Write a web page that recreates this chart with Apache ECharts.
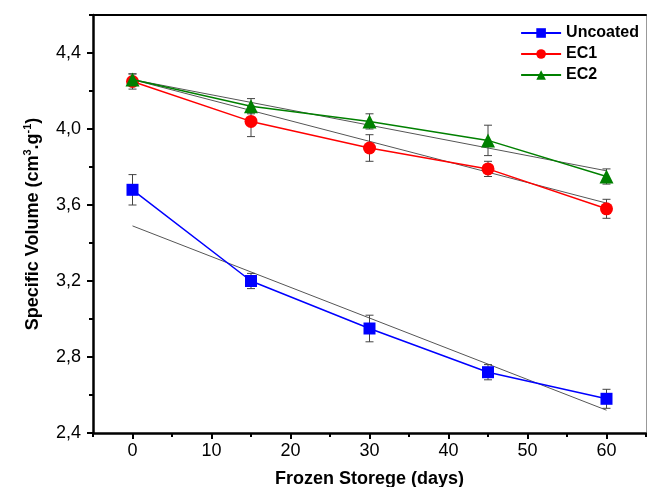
<!DOCTYPE html>
<html>
<head>
<meta charset="utf-8">
<script src="https://cdn.jsdelivr.net/npm/echarts@6/dist/echarts.min.js"></script>
<style>
  html, body { margin: 0; padding: 0; background: #fff; }
  #chart { width: 647px; height: 487px; }
</style>
</head>
<body>
<div id="chart"></div>
<script>
// days of frozen storage
var days = [0, 15, 30, 45, 60];

// specific volume means
var uncoated = [3.68, 3.20, 2.95, 2.72, 2.58];
var ec1 = [4.25, 4.04, 3.90, 3.79, 3.58];
var ec2 = [4.26, 4.12, 4.04, 3.94, 3.75];

// error bar half widths
var uncoatedErr = [0.08, 0.04, 0.07, 0.04, 0.05];
var ec1Err = [0.04, 0.08, 0.07, 0.04, 0.05];
var ec2Err = [0.03, 0.04, 0.04, 0.08, 0.04];

// gray linear fits, read at the ends
var fitDays = [0, 60];
var uncoatedFit = [3.49, 2.52];
var ec1Fit = [4.26, 3.61];
var ec2Fit = [4.26, 3.78];

// ticks
var xTicks = [0, 10, 20, 30, 40, 50, 60];
var xMinorTicks = [-5, 5, 15, 25, 35, 45, 55, 65];
var yTicks = [2.4, 2.8, 3.2, 3.6, 4.0, 4.4];
var yMinorTicks = [2.6, 3.0, 3.4, 3.8, 4.2, 4.6];

var FONT = "Arial, 'Liberation Sans', sans-serif";

function pairs(xs, ys) {
    return xs.map(function (x, i) { return [x, ys[i]]; });
}
function errData(ys, es) {
    return days.map(function (x, i) { return [x, ys[i] - es[i], ys[i] + es[i]]; });
}

function errorRender(params, api) {
    var lo = api.coord([api.value(0), api.value(1)]);
    var hi = api.coord([api.value(0), api.value(2)]);
    var w = 4;
    var st = { stroke: '#444', lineWidth: 1 };
    return {
        type: 'group',
        children: [
            { type: 'line', shape: { x1: lo[0], y1: lo[1], x2: hi[0], y2: hi[1] }, style: st },
            { type: 'line', shape: { x1: lo[0] - w, y1: lo[1], x2: lo[0] + w, y2: lo[1] }, style: st },
            { type: 'line', shape: { x1: hi[0] - w, y1: hi[1], x2: hi[0] + w, y2: hi[1] }, style: st }
        ]
    };
}

function fitSeries(ys) {
    return {
        type: 'line',
        data: pairs(fitDays, ys),
        symbol: 'none',
        silent: true,
        lineStyle: { color: '#555', width: 1 },
        z: 1
    };
}

function errSeries(ys, es) {
    return {
        type: 'custom',
        renderItem: errorRender,
        data: errData(ys, es),
        encode: { x: 0, y: [1, 2] },
        silent: true,
        z: 2
    };
}

var chart = echarts.init(document.getElementById('chart'));
chart.setOption({
    animation: false,
    textStyle: { fontFamily: FONT },
    grid: { left: 93, right: 1, top: 15, bottom: 54, outerBoundsMode: 'none', containLabel: false },
    legend: {
        data: ['Uncoated', 'EC1', 'EC2'],
        orient: 'vertical',
        right: 3,
        top: 20,
        itemWidth: 40,
        itemHeight: 12,
        itemGap: 5,
        textStyle: { fontSize: 16, fontWeight: 'bold', color: '#000', fontFamily: FONT }
    },
    xAxis: [{
        type: 'value',
        min: -5,
        max: 65,
        name: 'Frozen Storege (days)',
        nameLocation: 'middle',
        nameGap: 37,
        nameTextStyle: { fontSize: 18, fontWeight: 'bold', color: '#000', fontFamily: FONT },
        axisLine: { onZero: false, lineStyle: { color: '#000', width: 2.5 } },
        axisTick: { length: 6, customValues: xTicks, lineStyle: { color: '#000', width: 2 } },
        axisLabel: { customValues: xTicks, fontSize: 18, color: '#000', margin: 9 },
        splitLine: { show: false }
    }, {
        type: 'value',
        min: -5,
        max: 65,
        position: 'bottom',
        axisLine: { show: false, onZero: false },
        axisTick: { length: 4, customValues: xMinorTicks, lineStyle: { color: '#000', width: 2 } },
        axisLabel: { show: false },
        splitLine: { show: false }
    }, {
        type: 'value',
        min: -5,
        max: 65,
        position: 'top',
        axisLine: { onZero: false, lineStyle: { color: '#000', width: 2 } },
        axisTick: { show: false },
        axisLabel: { show: false },
        splitLine: { show: false }
    }],
    yAxis: [{
        type: 'value',
        min: 2.4,
        max: 4.6,
        name: '{a|Specific Volume (cm}{s|3}{a|.g}{s|-1}{a|)}',
        nameLocation: 'middle',
        nameGap: 49,
        nameTextStyle: {
            rich: {
                a: { fontSize: 18, fontWeight: 'bold', color: '#000', fontFamily: FONT, lineHeight: 22 },
                s: { fontSize: 11, fontWeight: 'bold', color: '#000', fontFamily: FONT, verticalAlign: 'top' }
            }
        },
        axisLine: { onZero: false, lineStyle: { color: '#000', width: 2.5 } },
        axisTick: { length: 6, customValues: yTicks, lineStyle: { color: '#000', width: 2 } },
        axisLabel: {
            customValues: yTicks,
            fontSize: 18,
            color: '#000',
            margin: 12,
            formatter: function (v) { return v.toFixed(1).replace('.', ','); }
        },
        splitLine: { show: false }
    }, {
        type: 'value',
        min: 2.4,
        max: 4.6,
        position: 'left',
        axisLine: { show: false, onZero: false },
        axisTick: { length: 4, customValues: yMinorTicks, lineStyle: { color: '#000', width: 2 } },
        axisLabel: { show: false },
        splitLine: { show: false }
    }, {
        type: 'value',
        min: 2.4,
        max: 4.6,
        position: 'right',
        axisLine: { onZero: false, lineStyle: { color: '#999', width: 1 } },
        axisTick: { show: false },
        axisLabel: { show: false },
        splitLine: { show: false }
    }],
    series: [
        fitSeries(uncoatedFit),
        fitSeries(ec1Fit),
        fitSeries(ec2Fit),
        errSeries(uncoated, uncoatedErr),
        errSeries(ec1, ec1Err),
        errSeries(ec2, ec2Err),
        {
            name: 'Uncoated',
            type: 'line',
            data: pairs(days, uncoated),
            symbol: 'rect',
            symbolSize: 12,
            itemStyle: { color: '#0000ff' },
            lineStyle: { color: '#0000ff', width: 1.5 },
            z: 3
        },
        {
            name: 'EC1',
            type: 'line',
            data: pairs(days, ec1),
            symbol: 'circle',
            symbolSize: 13,
            itemStyle: { color: '#ff0000' },
            lineStyle: { color: '#ff0000', width: 1.5 },
            z: 3
        },
        {
            name: 'EC2',
            type: 'line',
            data: pairs(days, ec2),
            symbol: 'triangle',
            symbolSize: 14,
            itemStyle: { color: '#008000' },
            lineStyle: { color: '#008000', width: 1.5 },
            z: 4
        }
    ]
});
</script>
</body>
</html>
